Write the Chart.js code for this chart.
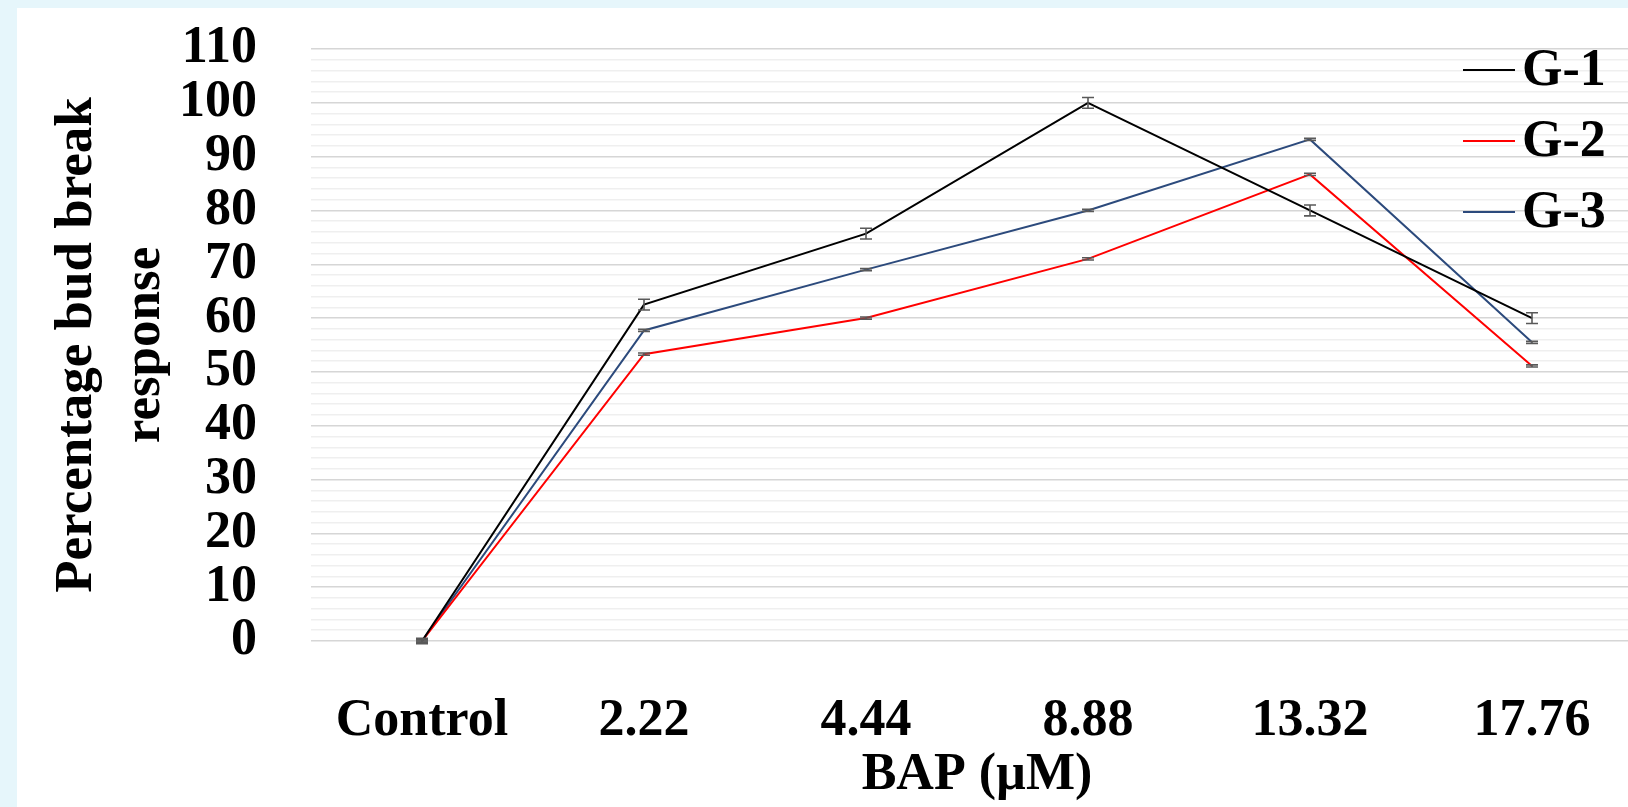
<!DOCTYPE html>
<html>
<head>
<meta charset="utf-8">
<title>Bud break response</title>
<script src="https://cdn.jsdelivr.net/npm/chart.js@4.4.1/dist/chart.umd.min.js"></script>
<style>
  html, body { margin: 0; padding: 0; background: #e6f6fb; overflow: hidden; }
  #sheet { position: absolute; left: 17px; top: 8px; width: 1611px; height: 799px; background: #fff; overflow: hidden; }
  #wrap { position: absolute; left: 0; top: 0; width: 1640px; height: 799px; }
</style>
</head>
<body>
<div id="sheet"><div id="wrap"><canvas id="bud-chart"></canvas></div></div>
<script>
// BAP concentrations (µM)
const categories = ['Control', '2.22', '4.44', '8.88', '13.32', '17.76'];
const seriesNames = ['G-1', 'G-2', 'G-3'];

// Percentage bud break response
const g1Values = [0, 62.5, 75.7, 100, 80, 60];
const g2Values = [0, 53.3, 60, 71, 86.7, 51.1];
const g3Values = [0, 57.7, 69, 80, 93.2, 55.5];

// Standard error bars
const g1Errors = [0.5, 1, 1, 1, 1, 1];
const g2Errors = [0.2, 0.2, 0.2, 0.2, 0.2, 0.2];
const g3Errors = [0.2, 0.2, 0.2, 0.2, 0.2, 0.2];

const yTicksMax = 110;
const yStep = 2;

const FONT = "'Liberation Serif', 'Times New Roman', serif";

// draws the error bars on every point
const errorBarPlugin = {
  id: 'errorBars',
  afterDatasetsDraw(chart) {
    const ctx = chart.ctx;
    const yScale = chart.scales.y;
    ctx.save();
    ctx.strokeStyle = '#595959';
    ctx.lineWidth = 1.6;
    chart.data.datasets.forEach((ds, i) => {
      const meta = chart.getDatasetMeta(i);
      meta.data.forEach((pt, j) => {
        const v = ds.data[j];
        const e = ds.errors[j];
        const yTop = yScale.getPixelForValue(v + e);
        const yBot = yScale.getPixelForValue(v - e);
        ctx.beginPath();
        ctx.moveTo(pt.x, yTop); ctx.lineTo(pt.x, yBot);
        ctx.moveTo(pt.x - 6, yTop); ctx.lineTo(pt.x + 6, yTop);
        ctx.moveTo(pt.x - 6, yBot); ctx.lineTo(pt.x + 6, yBot);
        ctx.stroke();
      });
    });
    ctx.restore();
  }
};

// legend sits inside the plot, top right
const innerLegend = {
  id: 'innerLegend',
  afterDraw(chart) {
    const ctx = chart.ctx;
    const area = chart.chartArea;
    ctx.save();
    ctx.font = 'bold 52px ' + FONT;
    ctx.textBaseline = 'middle';
    ctx.textAlign = 'left';
    chart.data.datasets.forEach((ds, i) => {
      const y = area.top + 21 + i * 71;
      ctx.strokeStyle = ds.borderColor;
      ctx.lineWidth = 2;
      ctx.beginPath();
      ctx.moveTo(area.right - 180, y);
      ctx.lineTo(area.right - 128, y);
      ctx.stroke();
      ctx.fillStyle = '#000';
      ctx.fillText(ds.label, area.right - 121, y + 2);
    });
    ctx.restore();
  }
};

function makeSet(label, data, errors, color) {
  return {
    label: label,
    data: data,
    errors: errors,
    borderColor: color,
    backgroundColor: color,
    borderWidth: 2,
    pointRadius: 0,
    tension: 0,
    fill: false
  };
}

window.addEventListener('DOMContentLoaded', () => {
  new Chart(document.getElementById('bud-chart'), {
    type: 'line',
    data: {
      labels: categories,
      datasets: [
        makeSet(seriesNames[0], g1Values, g1Errors, '#000000'),
        makeSet(seriesNames[1], g2Values, g2Errors, '#ff0000'),
        makeSet(seriesNames[2], g3Values, g3Errors, '#2c4a7c')
      ]
    },
    options: {
      responsive: true,
      maintainAspectRatio: false,
      animation: false,
      layout: { padding: { top: 41, right: 14, bottom: 0, left: 0 } },
      plugins: {
        legend: { display: false },
        tooltip: { enabled: false }
      },
      scales: {
        x: {
          type: 'category',
          offset: true,
          grid: { display: false },
          border: { display: false },
          ticks: {
            color: '#000',
            padding: 41,
            font: { family: FONT, size: 52, weight: 'bold' }
          },
          title: {
            display: true,
            text: 'BAP (µM)',
            color: '#000',
            padding: { top: 0, bottom: 0 },
            font: { family: FONT, size: 52, weight: 'bold', lineHeight: 1.2 }
          },
          afterFit(scale) {
            scale.height = 166;
            scale.paddingLeft = 0;
            scale.paddingRight = 0;
          }
        },
        y: {
          min: 0,
          max: yTicksMax,
          border: { display: false },
          grid: {
            drawTicks: false,
            lineWidth: 1.5,
            color: c => (c.tick && c.tick.value % 10 === 0) ? '#d6d6d6' : '#efefef'
          },
          ticks: {
            stepSize: yStep,
            autoSkip: false,
            color: '#000',
            padding: 54,
            font: { family: FONT, size: 52, weight: 'bold' },
            callback: v => (v % 10 === 0 ? v : '')
          },
          title: {
            display: true,
            text: ['Percentage bud break', 'response'],
            color: '#000',
            padding: { top: 27, bottom: 0 },
            font: { family: FONT, size: 53, weight: 'bold', lineHeight: 1.27 }
          },
          afterFit(scale) {
            scale.width = 294;
            scale.paddingTop = 0;
            scale.paddingBottom = 0;
          }
        }
      }
    },
    plugins: [errorBarPlugin, innerLegend]
  });
});
</script>
</body>
</html>
